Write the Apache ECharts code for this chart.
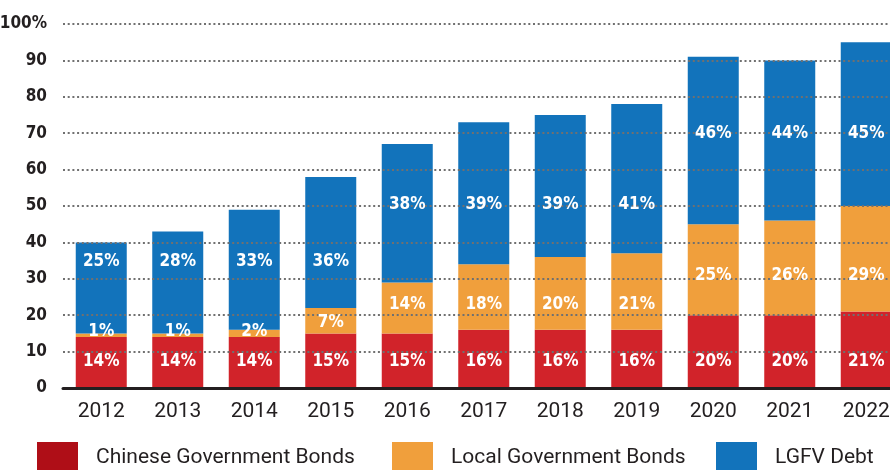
<!DOCTYPE html>
<html>
<head>
<meta charset="utf-8">
<script src="https://cdn.jsdelivr.net/npm/echarts@6/dist/echarts.min.js"></script>
<style>
  html, body { margin: 0; padding: 0; background: #fff; }
  #chart { width: 890px; height: 470px; }
</style>
</head>
<body>
<div id="chart"></div>
<script>
// Composition of debt (% of GDP), by year
const years = ['2012', '2013', '2014', '2015', '2016', '2017', '2018', '2019', '2020', '2021', '2022'];
const chineseGovBonds = [14, 14, 14, 15, 15, 16, 16, 16, 20, 20, 21];
const localGovBonds = [1, 1, 2, 7, 14, 18, 20, 21, 25, 26, 29];
const lgfvDebt = [25, 28, 33, 36, 38, 39, 39, 41, 46, 44, 45];
const yTicks = ['0', '10', '20', '30', '40', '50', '60', '70', '80', '90', '100%'];

const seriesNames = ['Chinese Government Bonds', 'Local Government Bonds', 'LGFV Debt'];
const colors = { cgb: '#D1232A', lgb: '#F09F3C', lgfv: '#1273BB' };
const ink = '#231F20';
const condensed = "'DejaVu Sans Condensed', 'DejaVu Sans', sans-serif";

// Label rows (in axis units) so the percentages line up across neighbouring bars
const labelRows = {
  cgb: years.map(() => 7.3),
  lgb: years.map((y, i) => (i < 3 ? 15.4 : i === 3 ? 18 : i < 8 ? 22.8 : 31)),
  lgfv: years.map((y, i) => (i < 4 ? 34.7 : i < 8 ? 50.3 : 69.8))
};

const chart = echarts.init(document.getElementById('chart'), null, { renderer: 'canvas' });

function rowLayout(rows) {
  return function (p) {
    const y = chart.convertToPixel({ yAxisIndex: 0 }, rows[p.dataIndex]);
    return {
      x: p.rect.x + p.rect.width / 2,
      y: y,
      align: 'center',
      verticalAlign: 'middle'
    };
  };
}

const labelStyle = {
  show: true,
  position: 'inside',
  color: '#fff',
  fontFamily: condensed,
  fontWeight: 'bold',
  fontSize: 17,
  formatter: (p) => p.value + '%'
};

// Coloured bars sit under the dotted grid
function barSeries(name, data, color) {
  return {
    name: name,
    type: 'bar',
    stack: 'debt',
    data: data,
    barWidth: 51,
    itemStyle: { color: color },
    label: { show: false },
    emphasis: { disabled: true },
    z: 2
  };
}

// Transparent twin stack on top of the grid that carries the percentage labels
function labelSeries(name, data, rows) {
  return {
    name: name + ' (labels)',
    type: 'bar',
    stack: 'labels',
    data: data,
    barWidth: 51,
    barGap: '-100%',
    itemStyle: { color: 'rgba(0,0,0,0)' },
    label: labelStyle,
    labelLayout: rowLayout(rows),
    emphasis: { disabled: true },
    silent: true,
    z: 8
  };
}

function legendAt(left, name, color) {
  return {
    left: left,
    top: 442,
    padding: 0,
    itemWidth: 41,
    itemHeight: 32,
    icon: 'rect',
    selectedMode: false,
    data: [{ name: name, itemStyle: { color: color } }],
    textStyle: {
      color: ink,
      fontFamily: 'Roboto, sans-serif',
      fontSize: 21,
      padding: [0, 0, 0, 13]
    }
  };
}

chart.setOption({
  animation: false,
  backgroundColor: '#fff',
  grid: {
    left: 63,
    top: 24,
    width: 841.5,
    bottom: 82,
    outerBoundsMode: 'none',
    containLabel: false
  },
  legend: [
    legendAt(37, seriesNames[0], '#AF0E17'),
    legendAt(392, seriesNames[1], colors.lgb),
    legendAt(716, seriesNames[2], colors.lgfv)
  ],
  xAxis: {
    type: 'category',
    data: years,
    z: 6,
    axisLine: { show: true, lineStyle: { color: ink, width: 3 } },
    axisTick: { show: false },
    axisLabel: {
      color: ink,
      fontFamily: 'Roboto, sans-serif',
      fontSize: 21,
      margin: 13
    },
    splitLine: { show: false }
  },
  yAxis: {
    type: 'value',
    min: 0,
    max: 100,
    interval: 10,
    z: 5,
    axisLine: { show: false },
    axisTick: { show: false },
    axisLabel: {
      color: ink,
      fontFamily: condensed,
      fontWeight: 'bold',
      fontSize: 17,
      margin: 16,
      formatter: (v) => yTicks[Math.round(v / 10)]
    },
    splitLine: {
      show: true,
      lineStyle: { color: '#707070', width: 2, type: [2, 2.7] }
    }
  },
  series: [
    barSeries(seriesNames[0], chineseGovBonds, colors.cgb),
    barSeries(seriesNames[1], localGovBonds, colors.lgb),
    barSeries(seriesNames[2], lgfvDebt, colors.lgfv),
    labelSeries(seriesNames[0], chineseGovBonds, labelRows.cgb),
    labelSeries(seriesNames[1], localGovBonds, labelRows.lgb),
    labelSeries(seriesNames[2], lgfvDebt, labelRows.lgfv)
  ]
});
</script>
</body>
</html>
